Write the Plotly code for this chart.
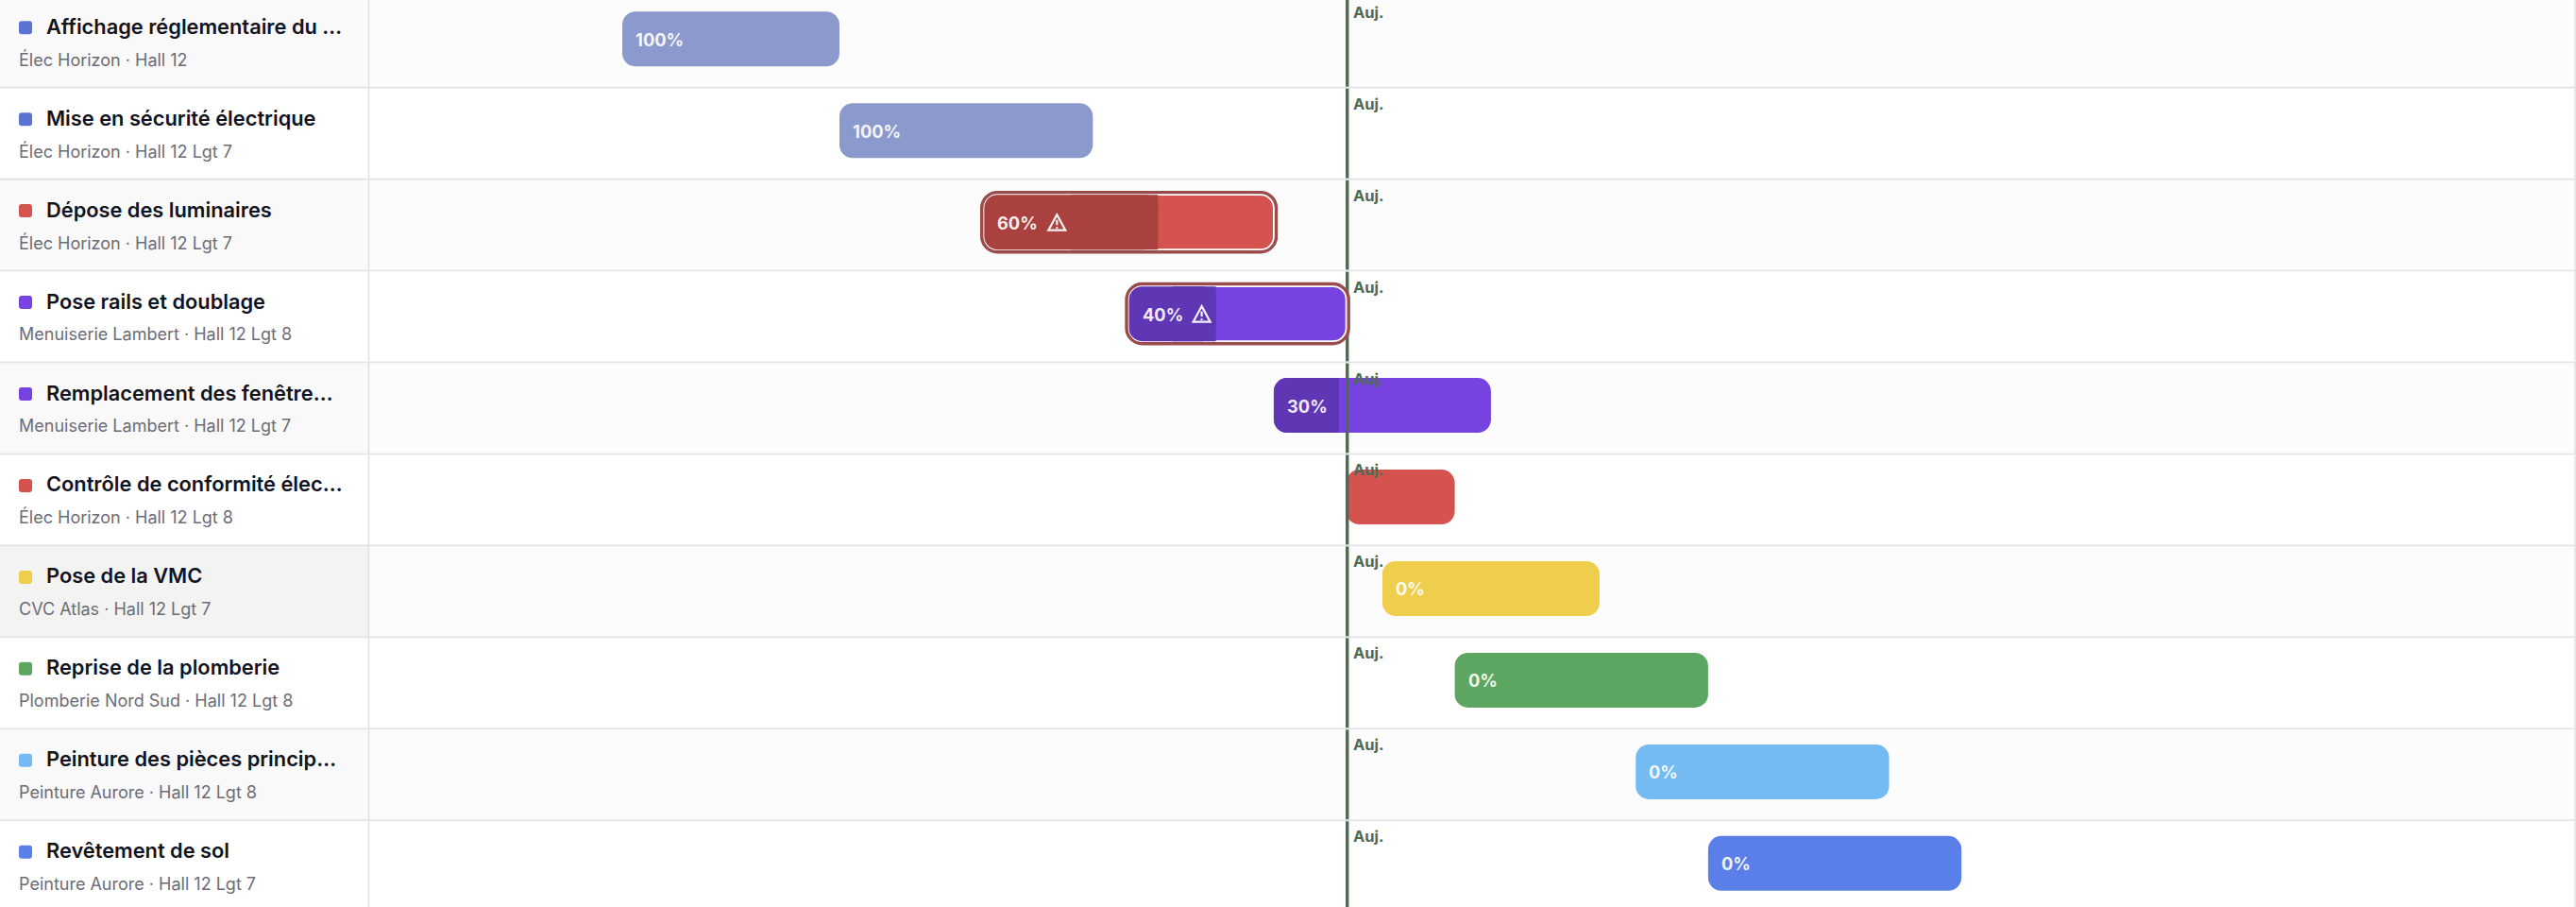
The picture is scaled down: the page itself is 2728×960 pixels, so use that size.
import plotly.graph_objects as go

# ---- data ----
titles = ["Affichage réglementaire du …", "Mise en sécurité électrique", "Dépose des luminaires",
          "Pose rails et doublage", "Remplacement des fenêtre…", "Contrôle de conformité élec…",
          "Pose de la VMC", "Reprise de la plomberie", "Peinture des pièces princip…", "Revêtement de sol"]
subtitles = ["Élec Horizon · Hall 12", "Élec Horizon · Hall 12 Lgt 7", "Élec Horizon · Hall 12 Lgt 7",
             "Menuiserie Lambert · Hall 12 Lgt 8", "Menuiserie Lambert · Hall 12 Lgt 7",
             "Élec Horizon · Hall 12 Lgt 8", "CVC Atlas · Hall 12 Lgt 7",
             "Plomberie Nord Sud · Hall 12 Lgt 8", "Peinture Aurore · Hall 12 Lgt 8",
             "Peinture Aurore · Hall 12 Lgt 7"]
start_day = [0, 6, 10, 14, 18, 20, 21, 23, 28, 30]
duration_days = [6, 7, 8, 6, 6, 3, 6, 7, 7, 7]
progress = [100, 100, 60, 40, 30, 0, 0, 0, 0, 0]
progress_labels = ["100%", "100%", "60%", "40%", "30%", "", "0%", "0%", "0%", "0%"]
warning = [False, False, True, True, False, False, False, False, False, False]
today_day = 20.03
today_label = "Auj."
tag_colors = ["#5B74D4", "#5B74D4", "#D4534E", "#7743E0", "#7743E0", "#D4534E", "#EFCE4E", "#5CA661", "#74BAF3", "#5A7FE8"]
bar_colors = ["#8C99CC", "#8C99CC", "#D4534E", "#7743E0", "#7743E0", "#D4534E", "#EFCE4E", "#5CA661", "#74BAF3", "#5A7FE8"]
done_colors = ["#8C99CC", "#8C99CC", "#A9423E", "#5F36B3", "#5F36B3", "#A9423E", "#BFA53E", "#4A854E", "#5D95C2", "#4866BA"]

# ---- layout constants ----
W, H = 2728, 960
PX_DAY = 38.33
X0 = 659.0
ROW_H = 96.95
ROW_TOP = -4.3
PANEL = 390.5
RAD = 14
LINE = "#E1E1E7"
TODAY = "#4F6A50"
FONT = "Inter"

n = len(titles)
xrange_ = [(0 - X0) / PX_DAY, (W - X0) / PX_DAY]
yrange_ = [(H - ROW_TOP) / ROW_H - 0.5, (0 - ROW_TOP) / ROW_H - 0.5]
BAR_W = 58 / ROW_H
BAR_OFF = -31.9 / ROW_H


def py(px):
    return 1 - px / H


def top(i):
    return ROW_TOP + i * ROW_H


fig = go.Figure()
common = dict(orientation="h", offset=BAR_OFF, width=BAR_W, hoverinfo="skip", showlegend=False)

# outer ring of flagged tasks
ring = [i for i in range(n) if warning[i]]
fig.add_trace(go.Bar(y=[titles[i] for i in ring], x=[duration_days[i] for i in ring],
                     base=[start_day[i] for i in ring],
                     marker=dict(color="#FFFFFF", cornerradius=RAD, line=dict(color="#9A4C4C", width=8.6)), **common))
# full bar
fig.add_trace(go.Bar(y=titles, x=duration_days, base=start_day,
                     marker=dict(color=bar_colors, cornerradius=RAD,
                                 line=dict(color="#FFFFFF", width=[1.8 if w else 0 for w in warning])), **common))
# progress part: rounded on the left, squared on the right by a second half bar
part = [i for i in range(n) if 0 < progress[i] < 100]
done = [duration_days[i] * progress[i] / 100 for i in part]
fig.add_trace(go.Bar(y=[titles[i] for i in part], x=done, base=[start_day[i] for i in part],
                     marker=dict(color=[done_colors[i] for i in part], cornerradius=RAD, line=dict(width=0)), **common))
fig.add_trace(go.Bar(y=[titles[i] for i in part], x=[d / 2 for d in done],
                     base=[start_day[i] + d / 2 for i, d in zip(part, done)],
                     marker=dict(color=[done_colors[i] for i in part], line=dict(width=0)), **common))

shapes = []
# row backgrounds
for i in range(n):
    odd = i % 2 == 0
    if odd:
        shapes.append(dict(type="rect", xref="paper", yref="paper", x0=PANEL / W, x1=1, y0=py(top(i)), y1=py(top(i + 1)),
                           fillcolor="#FCFCFC", line_width=0, layer="below"))
        shapes.append(dict(type="rect", xref="paper", yref="paper", x0=0, x1=PANEL / W, y0=py(top(i)), y1=py(top(i + 1)),
                           fillcolor="#F3F4F2" if i == 6 else "#F9F9F9", line_width=0, layer="below"))
# today line, one segment per row (behind the bar when the bar has a ring)
for i in range(n):
    shapes.append(dict(type="line", xref="x", yref="paper", x0=today_day, x1=today_day,
                       y0=py(top(i) + 1), y1=py(top(i + 1) - 1),
                       line=dict(color=TODAY, width=3.4), layer="below" if warning[i] else "above"))
# rules
for i in range(1, n):
    shapes.append(dict(type="line", xref="paper", yref="paper", x0=0, x1=1, y0=py(top(i)), y1=py(top(i)),
                       line=dict(color=LINE, width=1.6), layer="below"))
shapes.append(dict(type="line", xref="paper", yref="paper", x0=PANEL / W, x1=PANEL / W, y0=0, y1=1,
                   line=dict(color=LINE, width=1.6), layer="below"))
shapes.append(dict(type="line", xref="paper", yref="paper", x0=2727 / W, x1=2727 / W, y0=0, y1=1,
                   line=dict(color=LINE, width=1.6), layer="below"))
# colour tags
S, R = 14, 3
for i in range(n):
    xa, xb = 20 / W, (20 + S) / W
    yc = top(i) + 33.5
    ya, yb = py(yc - S / 2), py(yc + S / 2)
    rx, ry = R / W, R / H
    path = (f"M{xa + rx},{ya} L{xb - rx},{ya} Q{xb},{ya} {xb},{ya - ry} L{xb},{yb + ry} Q{xb},{yb} {xb - rx},{yb} "
            f"L{xa + rx},{yb} Q{xa},{yb} {xa},{yb + ry} L{xa},{ya - ry} Q{xa},{ya} {xa + rx},{ya} Z")
    shapes.append(dict(type="path", xref="paper", yref="paper", path=path, fillcolor=tag_colors[i], line_width=0, layer="below"))
# warning icons (pixel-sized glyph anchored on the bar start)
WHITE = "rgba(255,255,255,0.92)"
for i in range(n):
    if warning[i]:
        yc = py(top(i) + 45.6)
        base_sz = dict(xref="x", yref="paper", xsizemode="pixel", ysizemode="pixel",
                       xanchor=start_day[i], yanchor=yc, layer="above")
        shapes.append(dict(type="path", path="M77,8 L86,-8.5 L68,-8.5 Z", line=dict(color=WHITE, width=2.2),
                           fillcolor="rgba(0,0,0,0)", **base_sz))
        shapes.append(dict(type="path", path="M77,2.5 L77,-3", line=dict(color=WHITE, width=2.2), **base_sz))
        shapes.append(dict(type="path", path="M77,-5 L77,-6.8", line=dict(color=WHITE, width=2.2), **base_sz))

ann = []
for i in range(n):
    ann.append(dict(xref="paper", yref="paper", x=46.5 / W, y=py(top(i) + 32), text=titles[i], showarrow=False,
                    xanchor="left", yanchor="middle", font=dict(family=FONT, size=21.8, color="#11131F", weight=600)))
    ann.append(dict(xref="paper", yref="paper", x=17.5 / W, y=py(top(i) + 67), text=subtitles[i], showarrow=False,
                    xanchor="left", yanchor="middle", font=dict(family=FONT, size=18, color="#6C6C76")))
    ann.append(dict(xref="x", yref="paper", x=today_day, xshift=4, y=py(top(i) + 17), text=today_label, showarrow=False,
                    xanchor="left", yanchor="middle", font=dict(family=FONT, size=16.5, color=TODAY, weight=700)))
    if progress_labels[i]:
        yc = top(i) + 46
        ann.append(dict(xref="x", yref="paper", x=start_day[i], xshift=12, y=py(yc), text=progress_labels[i], showarrow=False,
                        xanchor="left", yanchor="middle", font=dict(family=FONT, size=18.3, color="rgba(255,255,255,0.92)", weight=700)))

fig.update_layout(width=W, height=H, margin=dict(l=0, r=0, t=0, b=0), barmode="overlay",
                  paper_bgcolor="#FFFFFF", plot_bgcolor="rgba(0,0,0,0)", showlegend=False,
                  xaxis=dict(range=xrange_, visible=False, fixedrange=True),
                  yaxis=dict(type="category", categoryorder="array", categoryarray=titles, range=yrange_, visible=False, fixedrange=True),
                  shapes=shapes, annotations=ann)

fig.write_html("out.html", config={"displayModeBar": False},
               post_script="document.body.style.margin='0';document.body.style.overflow='hidden';")
